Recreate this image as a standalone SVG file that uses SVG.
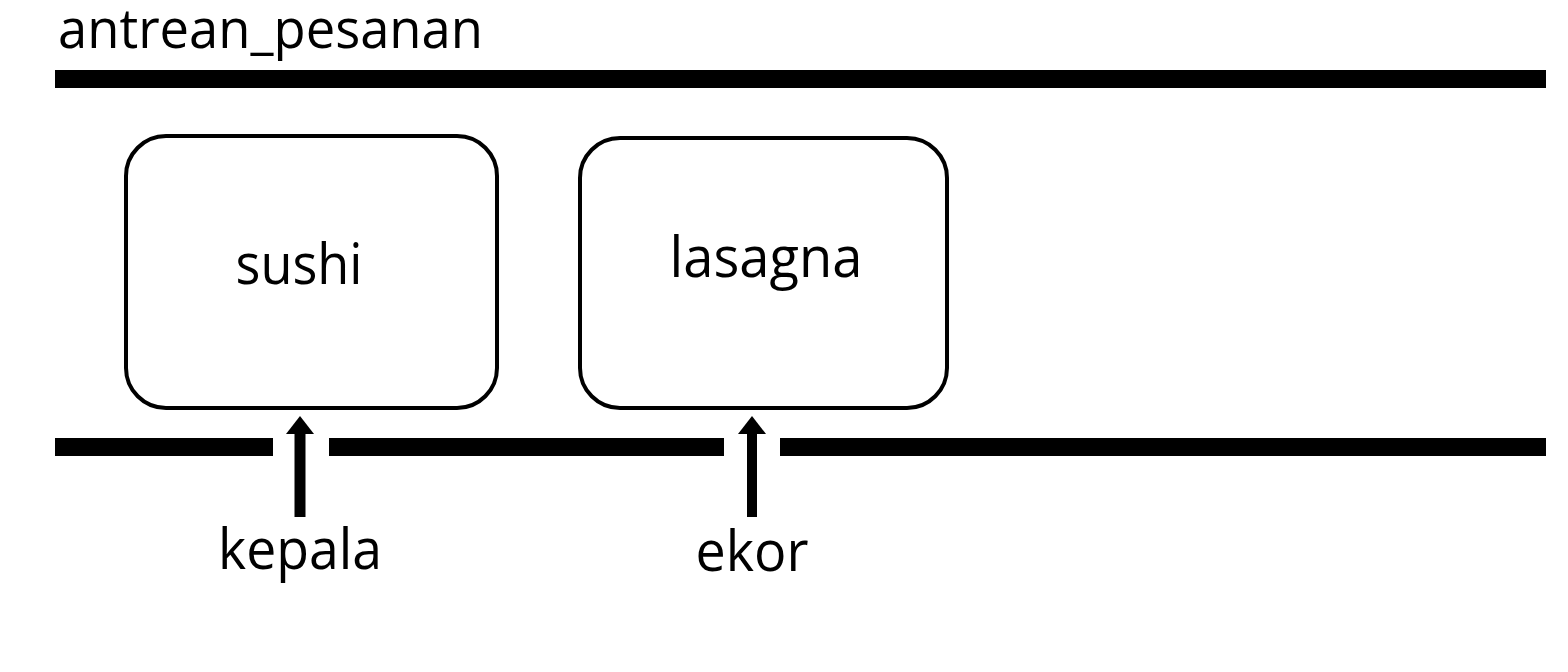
<svg xmlns="http://www.w3.org/2000/svg" width="1568" height="672" viewBox="0 0 1568 672">
<style>
text{font-family:"Open Sans","Noto Sans","DejaVu Sans",sans-serif;fill:#000}
.t{font-size:56px}
.box{fill:#fff;stroke:#000;stroke-width:4}
.bar{fill:#000}
.arr{stroke:#000;stroke-width:11;marker-end:url(#ah)}
</style>
<defs>
<marker id="ah" viewBox="0 0 18 28" refX="0" refY="14" markerWidth="18" markerHeight="28" markerUnits="userSpaceOnUse" orient="auto">
<path d="M0,0 L18,14 L0,28 Z" fill="#000"/>
</marker>
</defs>
<rect width="1568" height="672" fill="#fff"/>
<text id="title" x="58" y="48" style="font-size:54px" textLength="425" lengthAdjust="spacingAndGlyphs">antrean_pesanan</text>
<g id="queue">
<rect class="bar" x="55" y="70" width="1491" height="18"/>
<rect class="bar" x="55" y="438" width="218" height="18"/>
<rect class="bar" x="329" y="438" width="395" height="18"/>
<rect class="bar" x="780" y="438" width="766" height="18"/>
</g>
<g id="sushi">
<rect class="box" x="126" y="136" width="371" height="272" rx="40"/>
<text class="t" x="299" y="284" text-anchor="middle" textLength="127" lengthAdjust="spacingAndGlyphs">sushi</text>
</g>
<g id="lasagna">
<rect class="box" x="580" y="138" width="367" height="270" rx="40"/>
<text class="t" x="766" y="277" text-anchor="middle" textLength="193" lengthAdjust="spacingAndGlyphs">lasagna</text>
</g>
<g id="connectors">
<line class="arr" x1="300" y1="517" x2="300" y2="434"/>
<line class="arr" x1="752" y1="517" x2="752" y2="434" style="stroke-width:10"/>
</g>
<g id="kepala"><text class="t" x="300" y="569" text-anchor="middle" textLength="164" lengthAdjust="spacingAndGlyphs">kepala</text></g>
<g id="ekor"><text class="t" x="752" y="571" text-anchor="middle" textLength="113" lengthAdjust="spacingAndGlyphs">ekor</text></g>
</svg>
